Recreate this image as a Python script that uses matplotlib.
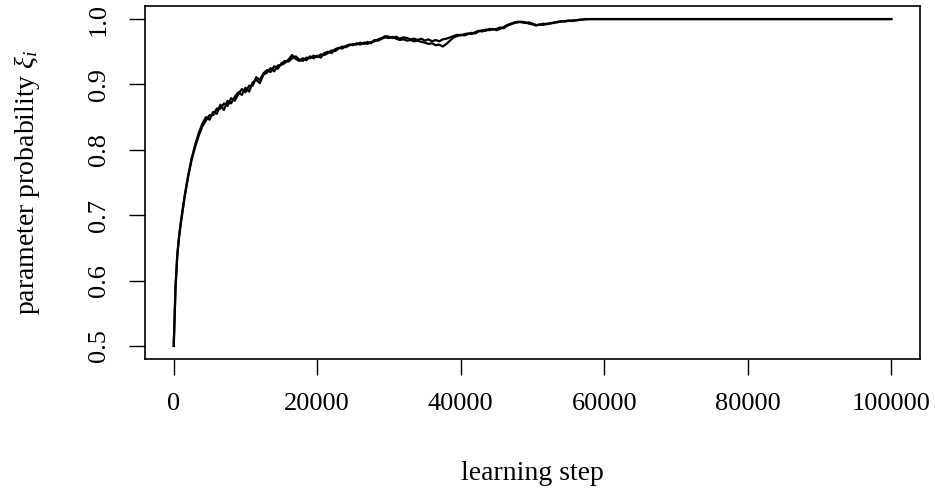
import matplotlib
matplotlib.use("Agg")
import matplotlib.pyplot as plt

plt.rcParams['font.family'] = ['Liberation Serif', 'DejaVu Serif']
plt.rcParams['mathtext.fontset'] = 'custom'
plt.rcParams['mathtext.rm'] = 'Liberation Serif'
plt.rcParams['mathtext.it'] = 'Liberation Serif:italic'

# learning steps (x) at which the probabilities were read
steps_early = [0, 100, 250, 500, 750, 1000, 1500, 2000, 2500, 3000, 3500]
steps_mid = list(range(4000, 58001, 500))
steps_late = [60000, 100000]
steps = steps_early + steps_mid + steps_late

xi_run1 = [0.500, 0.535, 0.590, 0.640, 0.668, 0.690, 0.728, 0.760, 0.787, 0.808, 0.826,
           0.840, 0.850, 0.846, 0.858, 0.855, 0.869, 0.861, 0.875, 0.871, 0.881,
           0.888, 0.884, 0.895, 0.889, 0.903, 0.907, 0.902, 0.915, 0.918, 0.925,
           0.920, 0.929, 0.930, 0.933, 0.938, 0.945, 0.939, 0.936, 0.940, 0.937,
           0.943, 0.940, 0.944, 0.941, 0.948, 0.950, 0.948, 0.954, 0.956, 0.955,
           0.959, 0.961, 0.960, 0.963, 0.961, 0.964, 0.962, 0.965, 0.966, 0.969,
           0.971, 0.974, 0.973, 0.971, 0.973, 0.970, 0.972, 0.971, 0.969, 0.970,
           0.968, 0.970, 0.967, 0.969, 0.966, 0.968, 0.966, 0.969, 0.970, 0.972,
           0.974, 0.976, 0.975, 0.977, 0.978, 0.977, 0.980, 0.982, 0.981, 0.984,
           0.983, 0.985, 0.983, 0.985, 0.988, 0.991, 0.993, 0.995, 0.996, 0.995,
           0.994, 0.995, 0.993, 0.991, 0.991, 0.993, 0.992, 0.994, 0.994, 0.996,
           0.996, 0.997, 0.997, 0.998, 0.998, 0.999, 0.9993, 0.9997, 1.000,
           1.000, 1.000]

xi_run2 = [0.500, 0.533, 0.588, 0.638, 0.667, 0.688, 0.726, 0.758, 0.785, 0.805, 0.822,
           0.836, 0.845, 0.853, 0.853, 0.863, 0.863, 0.871, 0.867, 0.879, 0.875,
           0.885, 0.893, 0.888, 0.898, 0.898, 0.911, 0.907, 0.917, 0.922, 0.919,
           0.928, 0.924, 0.932, 0.936, 0.935, 0.940, 0.943, 0.938, 0.936, 0.941,
           0.940, 0.944, 0.942, 0.946, 0.945, 0.948, 0.952, 0.951, 0.955, 0.958,
           0.957, 0.960, 0.962, 0.961, 0.964, 0.962, 0.965, 0.963, 0.968, 0.967,
           0.970, 0.972, 0.971, 0.973, 0.970, 0.968, 0.969, 0.967, 0.968, 0.966,
           0.967, 0.965, 0.964, 0.962, 0.963, 0.960, 0.961, 0.958, 0.962, 0.967,
           0.972, 0.974, 0.976, 0.975, 0.977, 0.979, 0.978, 0.981, 0.983, 0.982,
           0.985, 0.984, 0.985, 0.987, 0.986, 0.990, 0.992, 0.994, 0.995, 0.996,
           0.995, 0.993, 0.992, 0.990, 0.992, 0.991, 0.993, 0.993, 0.995, 0.995,
           0.997, 0.996, 0.998, 0.997, 0.998, 0.9985, 0.9995, 1.000, 1.000,
           1.000, 1.000]

x_ticks = [0, 20000, 40000, 60000, 80000, 100000]
y_ticks = [0.5, 0.6, 0.7, 0.8, 0.9, 1.0]

fig = plt.figure(figsize=(9.35, 4.93), dpi=100)
ax = fig.add_axes([145 / 935, 1 - 359 / 493, (920 - 145) / 935, (359 - 6) / 493])

ax.plot(steps, xi_run1, color='black', lw=1.6)
ax.plot(steps, xi_run2, color='black', lw=1.6)

ax.set_xlim(-4000, 104000)
ax.set_ylim(0.48, 1.02)
ax.set_xticks(x_ticks)
ax.set_xticklabels([str(t) for t in x_ticks])
ax.set_yticks(y_ticks)
ax.set_yticklabels(['%.1f' % t for t in y_ticks], rotation=90, va='center')
ax.tick_params(axis='both', direction='out', length=11.5, width=1.0, labelsize=19, color='black')
ax.tick_params(axis='x', pad=13)
ax.tick_params(axis='y', pad=14)
for s in ax.spines.values():
    s.set_linewidth(1.2)
    s.set_color('black')

ax.set_xlabel('learning step', fontsize=20)
ax.xaxis.set_label_coords(0.5, -0.29)
ax.set_ylabel(r'parameter probability $\xi_i$', fontsize=20)
ax.yaxis.set_label_coords(-0.133, 0.5)

fig.savefig('out.png', dpi=100)
